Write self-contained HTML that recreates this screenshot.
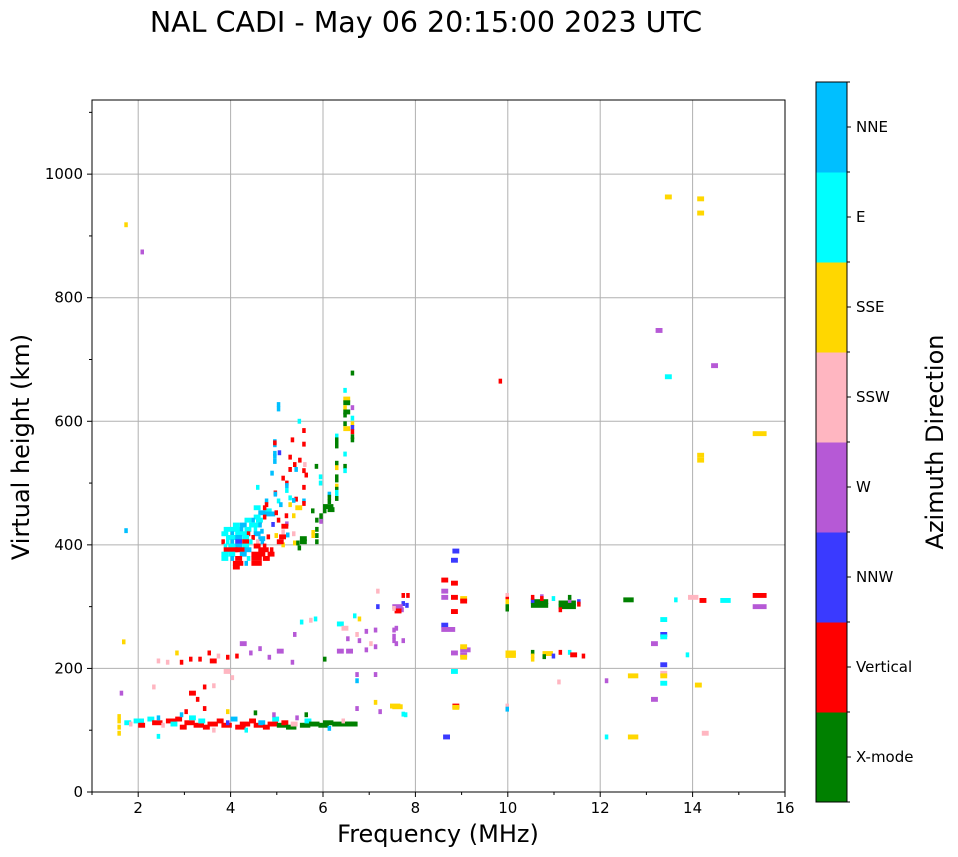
<!DOCTYPE html>
<html><head><meta charset="utf-8">
<style>
html,body{margin:0;padding:0;background:#fff;}
svg{display:block;font-family:"DejaVu Sans","Liberation Sans",sans-serif;}
</style></head>
<body>
<svg id="chart" width="958" height="857" viewBox="0 0 958 857" xmlns="http://www.w3.org/2000/svg">
<text x="426" y="32" font-size="28.5" text-anchor="middle">NAL CADI - May 06 20:15:00 2023 UTC</text>
<g id="grid"></g>
<g id="marks"></g>
<g id="axes"></g>
<g id="cbar"></g>
<text x="438" y="842" font-size="24" text-anchor="middle">Frequency (MHz)</text>
<text x="0" y="0" font-size="24" text-anchor="middle" transform="translate(29,447) rotate(-90)">Virtual height (km)</text>
<text x="0" y="0" font-size="24" text-anchor="middle" transform="translate(943,442) rotate(-90)">Azimuth Direction</text>
</svg>
<script>
const dirNames = ["X-mode","Vertical","NNW","W","SSW","SSE","E","NNE"];
const dirColors = ["#008000","#ff0000","#3a3aff","#b659d6","#ffb6c1","#ffd700","#00ffff","#00bfff"];
const xTicks = [2,4,6,8,10,12,14,16];
const yTicks = [0,200,400,600,800,1000];
// each mark: frequency (MHz), virtual height (km), direction index, span (cells)
const freqs = [];
const heights = [];
const dirs = [];
const spans = [];
function P(f,h,d,n){freqs.push(f);heights.push(h);dirs.push(d);spans.push(n||1);}
const rawMarks = [
[1.55,95,5,1],[1.55,105,5,1],[1.55,115,5,1],[1.55,122,5,1],[1.6,160,3,1],
[1.7,112,6,2],[1.8,110,4,1],[1.9,115,6,3],[2.0,108,1,2],[2.2,118,6,2],[2.3,112,1,3],[2.4,120,7,1],[2.5,108,4,1],[2.6,115,1,3],[2.7,110,6,2],[2.8,118,1,2],[2.9,105,1,2],[3.0,112,1,3],[3.1,120,6,2],[3.2,108,1,3],[3.3,115,6,2],[3.4,105,1,2],[3.5,110,1,3],[3.6,100,4,1],[3.7,115,1,2],[3.8,108,1,3],[3.9,112,2,1],[4.0,118,7,2],[4.1,105,1,3],[4.2,110,1,3],[4.3,100,6,1],[4.4,115,1,2],[4.5,108,1,3],[4.6,112,7,2],[4.7,105,1,2],[4.8,110,1,3],[4.9,118,6,2],[5.0,108,0,3],[5.1,112,1,2],[5.2,105,0,3],[5.3,110,4,2],[5.5,108,0,3],[5.6,115,6,2],[5.7,110,0,3],[5.9,108,0,3],[6.0,112,0,3],[6.1,103,7,1],[6.2,110,0,3],[6.4,110,0,3],[6.5,110,0,3],[6.6,110,0,2],[6.4,115,4,1],[5.4,120,3,1],[5.6,125,0,1],[4.9,125,3,1],[4.5,128,0,1],[3.9,130,5,1],[3.4,135,1,1],[3.25,150,1,1],[3.0,130,1,1],[3.4,170,1,1],[3.6,172,4,1],
[2.9,210,1,1],[2.6,210,4,1],[3.1,215,1,1],[3.3,215,1,1],[3.5,225,1,1],[3.55,212,1,2],[3.7,220,4,1],[3.9,218,1,1],[4.1,220,1,1],[4.2,240,3,2],[4.4,225,3,1],[4.6,232,3,1],[4.8,218,3,1],[5.0,228,3,2],[5.3,210,3,1],[5.35,255,3,1],[5.5,275,6,1],[5.7,278,4,1],[5.8,280,6,1],[6.0,215,0,1],[6.3,228,3,2],[6.5,228,3,2],[6.3,272,6,2],[6.4,265,4,2],[6.5,248,3,1],[6.7,255,4,1],[6.75,245,3,1],[6.75,280,5,1],[6.65,285,6,1],[6.9,260,3,1],[7.0,240,4,1],[7.1,235,3,1],[7.1,262,3,1],[7.15,300,2,1],[7.15,325,4,1],[6.9,230,3,1],[3.85,195,4,2],[4.0,185,4,1],[2.8,225,5,1],[2.4,212,4,1],[2.3,170,4,1],[2.9,125,7,1],[2.4,90,6,1],[3.1,160,1,2],
[6.7,180,7,1],[6.7,190,3,1],[6.7,135,3,1],[7.1,145,5,1],[7.2,130,3,1],[7.1,190,3,1],[7.5,138,5,3],[7.75,125,6,1],[7.55,265,3,1],[7.6,295,3,2],[7.7,305,2,1],[7.8,318,1,1],[7.55,240,3,1],
[8.77,375,2,2],[8.56,343,1,2],[8.77,338,1,2],[8.56,325,3,2],[8.56,315,3,2],[8.77,315,1,2],[8.97,313,5,2],[8.97,309,1,2],[8.77,292,1,2],
[7.7,318,1,1],[7.5,300,3,3],[7.78,302,2,1],[7.55,293,1,2],[7.5,297,4,1],
[8.56,270,2,2],[8.56,263,3,4],[7.5,262,3,1],[7.5,252,3,1],[7.5,245,3,1],[7.7,245,3,1],
[8.77,225,3,2],[8.97,230,3,3],[8.97,235,5,2],[8.97,222,3,2],[8.97,218,5,2],[8.77,195,6,2],
[9.95,318,4,1],[9.95,312,1,1],[9.95,308,5,1],[9.95,300,0,1],[9.95,296,0,1],[9.95,225,5,3],[9.95,221,5,3],
[10.5,302,0,5],[10.5,308,0,5],[10.5,310,2,1],[10.5,315,1,1],[10.7,316,3,1],[10.7,313,1,1],[10.95,313,6,1],
[11.1,300,0,5],[11.1,306,0,5],[11.3,310,3,1],[11.3,315,0,1],[11.1,295,1,1],[11.5,308,2,1],[11.5,304,1,1],
[10.5,226,0,1],[10.75,224,5,3],[10.5,220,5,1],[10.5,215,5,1],[10.95,220,2,1],[10.75,219,0,1],[11.1,226,1,1],[11.3,226,6,1],[11.35,222,1,2],[11.6,220,1,1],
[11.07,178,4,1],[7.45,139,5,3],[7.7,126,6,1],[8.8,139,1,2],[8.8,137,5,2],[9.95,139,4,1],[9.95,134,7,1],[8.6,89,2,2],
[12.5,311,0,3],[13.6,311,6,1],[13.3,279,6,2],[13.3,255,2,2],[13.3,251,6,2],[13.1,240,3,2],[13.3,206,2,2],[12.6,188,5,3],[13.3,192,4,2],[13.3,188,5,2],[12.1,180,3,1],[13.3,176,6,2],[13.1,150,3,2],[12.1,89,6,1],[12.6,89,5,3],
[14.05,173,5,2],[13.85,222,6,1],[14.2,95,4,2],[13.9,315,4,3],[14.15,310,1,2],[14.6,310,6,3],[15.3,318,1,4],[15.3,300,3,4],
[13.4,963,5,2],[14.1,960,5,2],[14.1,937,5,2],[13.2,747,3,2],[13.4,672,6,2],[14.4,690,3,2],[14.1,545,5,2],[14.1,537,5,2],[15.3,580,5,4],[9.8,665,1,1],[1.7,918,5,1],[2.05,874,3,1],[1.7,423,7,1],[1.65,243,5,1],
[8.8,390,2,2],
[6.6,678,0,1],[6.44,650,6,1],[6.44,636,5,2],[6.44,630,0,2],[6.44,622,5,1],[6.6,622,3,1],[6.44,615,0,2],[6.44,610,0,1],[6.6,605,6,1],[6.44,596,0,1],[6.6,596,5,1],[6.6,590,2,1],[6.44,588,5,2],[6.6,583,1,1],[6.6,575,0,1],[6.6,570,0,1],
[6.26,576,6,1],[6.26,570,0,1],[6.26,565,0,1],[6.26,560,0,1],[6.44,547,6,1],[6.26,532,0,1],[6.26,525,5,1],[6.44,527,0,1],[6.44,520,6,1],[5.82,527,0,1],[6.26,510,0,1],[6.26,505,0,1],[6.26,495,5,1],[6.26,490,0,1],[6.26,485,6,1],[6.26,478,6,1],[6.26,475,0,1],[6.1,482,7,1],[6.1,477,0,1],[6.1,470,0,1],[6.0,462,0,3],[6.0,455,0,1],[6.1,457,0,2],[5.91,510,6,1],[5.91,500,6,1],
[5.74,455,0,1],[5.92,447,0,1],[5.92,440,0,1],[5.75,420,5,1],[5.75,415,5,1],[5.83,440,0,1],[5.92,438,3,1],[5.83,425,0,1],[5.83,415,0,1],[5.83,405,0,1],[5.5,410,0,2],[5.5,405,0,2],[5.45,395,0,1],
[5.0,627,7,1],[5.0,620,7,1],[5.45,600,6,1],[4.92,567,7,1],[4.92,562,7,1],[4.92,565,1,1],[5.55,585,1,1],[4.92,548,7,1],[4.92,543,7,1],[5.02,549,2,1],[5.3,570,1,1],[5.55,563,1,1],[5.25,542,1,1],[4.92,535,7,1],[5.46,537,1,1],[5.57,530,4,1],[5.35,530,1,1],[5.38,522,7,1],[5.25,522,1,1],[5.55,520,1,1],[5.6,513,1,1],[4.86,516,7,1],[5.1,508,1,1],[5.18,500,1,1],[5.18,496,7,1],[4.55,493,6,1],[5.55,493,1,1],[5.18,488,6,1],[4.93,484,1,1],[4.93,482,7,1],[5.25,476,6,1],[5.38,474,1,1],[4.74,471,7,1],[5.0,471,6,1],[5.33,472,7,1],[4.74,465,1,1],[5.05,465,7,1],[5.55,471,7,1],[5.55,467,1,1],[5.25,465,5,1],[5.4,460,5,2],[4.74,455,6,2],[4.74,450,7,3],
[4.5,460,6,2],[4.6,452,7,2],[4.5,445,6,2],[4.7,460,1,1],[4.7,445,1,1],[4.6,438,1,1],[4.88,433,2,1],[4.95,452,1,1],[5.17,447,1,1],[5.33,447,5,1],[5.0,440,1,1],[5.18,434,3,1],[5.1,430,1,2],[5.1,421,4,1],[5.05,413,1,2],[5.33,418,4,1],[4.95,415,5,1],[4.64,422,7,1],[4.78,413,1,1],[5.2,416,7,1],[4.6,410,7,2],[5.35,403,5,1],[5.42,403,0,1],[5.1,400,5,1],[5.0,405,1,2],
[4.3,440,6,2],[4.45,440,7,1],[4.55,440,6,2],[4.05,432,6,2],[4.2,432,7,2],[4.4,432,6,3],[4.6,432,7,1],
[3.85,425,6,2],[4.0,425,6,3],[4.2,425,7,1],[4.3,425,6,2],[4.5,425,6,1],
[3.8,418,6,2],[4.0,418,7,1],[4.1,418,6,4],[4.35,418,1,1],[4.5,418,7,2],
[3.9,412,6,3],[4.1,412,7,2],[4.25,412,6,2],[4.45,412,1,1],
[3.8,405,1,1],[3.9,405,6,1],[4.0,405,7,1],[4.1,405,2,2],[4.25,405,1,2],[4.4,405,6,1],[4.55,405,4,1],[4.65,405,7,1],
[3.85,398,6,1],[3.95,398,6,2],[4.1,398,7,2],[4.25,398,6,2],[4.5,398,1,2],[4.7,398,1,1],
[3.85,392,1,4],[4.1,392,1,3],[4.3,392,7,2],[4.6,392,1,3],[4.85,392,1,1],
[3.8,385,6,2],[3.95,385,6,2],[4.2,385,7,2],[4.45,385,1,4],[4.8,385,1,2],
[3.8,378,6,2],[4.0,378,7,1],[4.1,378,1,2],[4.35,378,6,1],[4.45,378,1,3],[4.7,378,1,2],
[4.05,370,1,3],[4.3,370,7,1],[4.45,370,1,3],[4.05,364,1,2]
];
rawMarks.forEach(m=>P(m[0],m[1],m[2],m[3]));

const NS="http://www.w3.org/2000/svg";
const L=92,R=785,T=100,B=792,fMin=1,fMax=16,hMin=0,hMax=1120;
const xs=f=>L+(f-fMin)/(fMax-fMin)*(R-L);
const ys=h=>B-(h-hMin)/(hMax-hMin)*(B-T);
const CELL_F=0.075, CELL_H=8;
function el(tag,attrs,parent){const e=document.createElementNS(NS,tag);for(const k in attrs)e.setAttribute(k,attrs[k]);parent.appendChild(e);return e;}
const grid=document.getElementById('grid'),marks=document.getElementById('marks'),axes=document.getElementById('axes'),cbar=document.getElementById('cbar');
xTicks.forEach(t=>{if(t<fMax){const g=el('line',{x1:xs(t),x2:xs(t),y1:T,y2:B,stroke:'#b0b0b0','stroke-width':1},grid);}});
yTicks.forEach(t=>{if(t>hMin){const g=el('line',{x1:L,x2:R,y1:ys(t),y2:ys(t),stroke:'#b0b0b0','stroke-width':1},grid);}});
for(let i=0;i<freqs.length;i++){
  const x=xs(freqs[i]), w=xs(freqs[i]+CELL_F*spans[i])-x;
  const y=ys(heights[i]+CELL_H/2), h=ys(heights[i]-CELL_H/2)-y;
  const r=el('rect',{x:x.toFixed(1),y:y.toFixed(1),width:w.toFixed(1),height:h.toFixed(1),fill:dirColors[dirs[i]]},marks);
  
  
}
const frame=el('rect',{x:L,y:T,width:R-L,height:B-T,fill:'none',stroke:'#000','stroke-width':1},axes);


xTicks.forEach(t=>{el('line',{x1:xs(t),x2:xs(t),y1:B,y2:B+5,stroke:'#000'},axes);
  const tx=el('text',{x:xs(t),y:B+21,'font-size':15,'text-anchor':'middle'},axes);tx.textContent=t;
  });
for(let f=1;f<16;f+=2){el('line',{x1:xs(f),x2:xs(f),y1:B,y2:B+3,stroke:'#000'},axes);}
yTicks.forEach(t=>{el('line',{x1:L-5,x2:L,y1:ys(t),y2:ys(t),stroke:'#000'},axes);
  const tx=el('text',{x:L-9,y:ys(t)+5,'font-size':15,'text-anchor':'end'},axes);tx.textContent=t;
  });
for(let h=100;h<hMax;h+=200){el('line',{x1:L-3,x2:L,y1:ys(h),y2:ys(h),stroke:'#000'},axes);}
const CX=816,CW=31,CT=82,CB=802,seg=(CB-CT)/dirNames.length;
dirNames.forEach((n,i)=>{
  const y0=CB-(i+1)*seg;
  const r=el('rect',{x:CX,y:y0,width:CW,height:seg+0.5,fill:dirColors[i]},cbar);
  
  el('line',{x1:CX+CW,x2:CX+CW+4,y1:y0+seg/2,y2:y0+seg/2,stroke:'#000'},cbar);
  const tx=el('text',{x:CX+CW+9,y:y0+seg/2+5,'font-size':15},cbar);tx.textContent=n;
  
});
for(let i=0;i<=dirNames.length;i++){el('line',{x1:CX+CW,x2:CX+CW+3,y1:CB-i*seg,y2:CB-i*seg,stroke:'#000'},cbar);}
el('rect',{x:CX,y:CT,width:CW,height:CB-CT,fill:'none',stroke:'#000','stroke-width':1},cbar);
</script>
</body></html>
